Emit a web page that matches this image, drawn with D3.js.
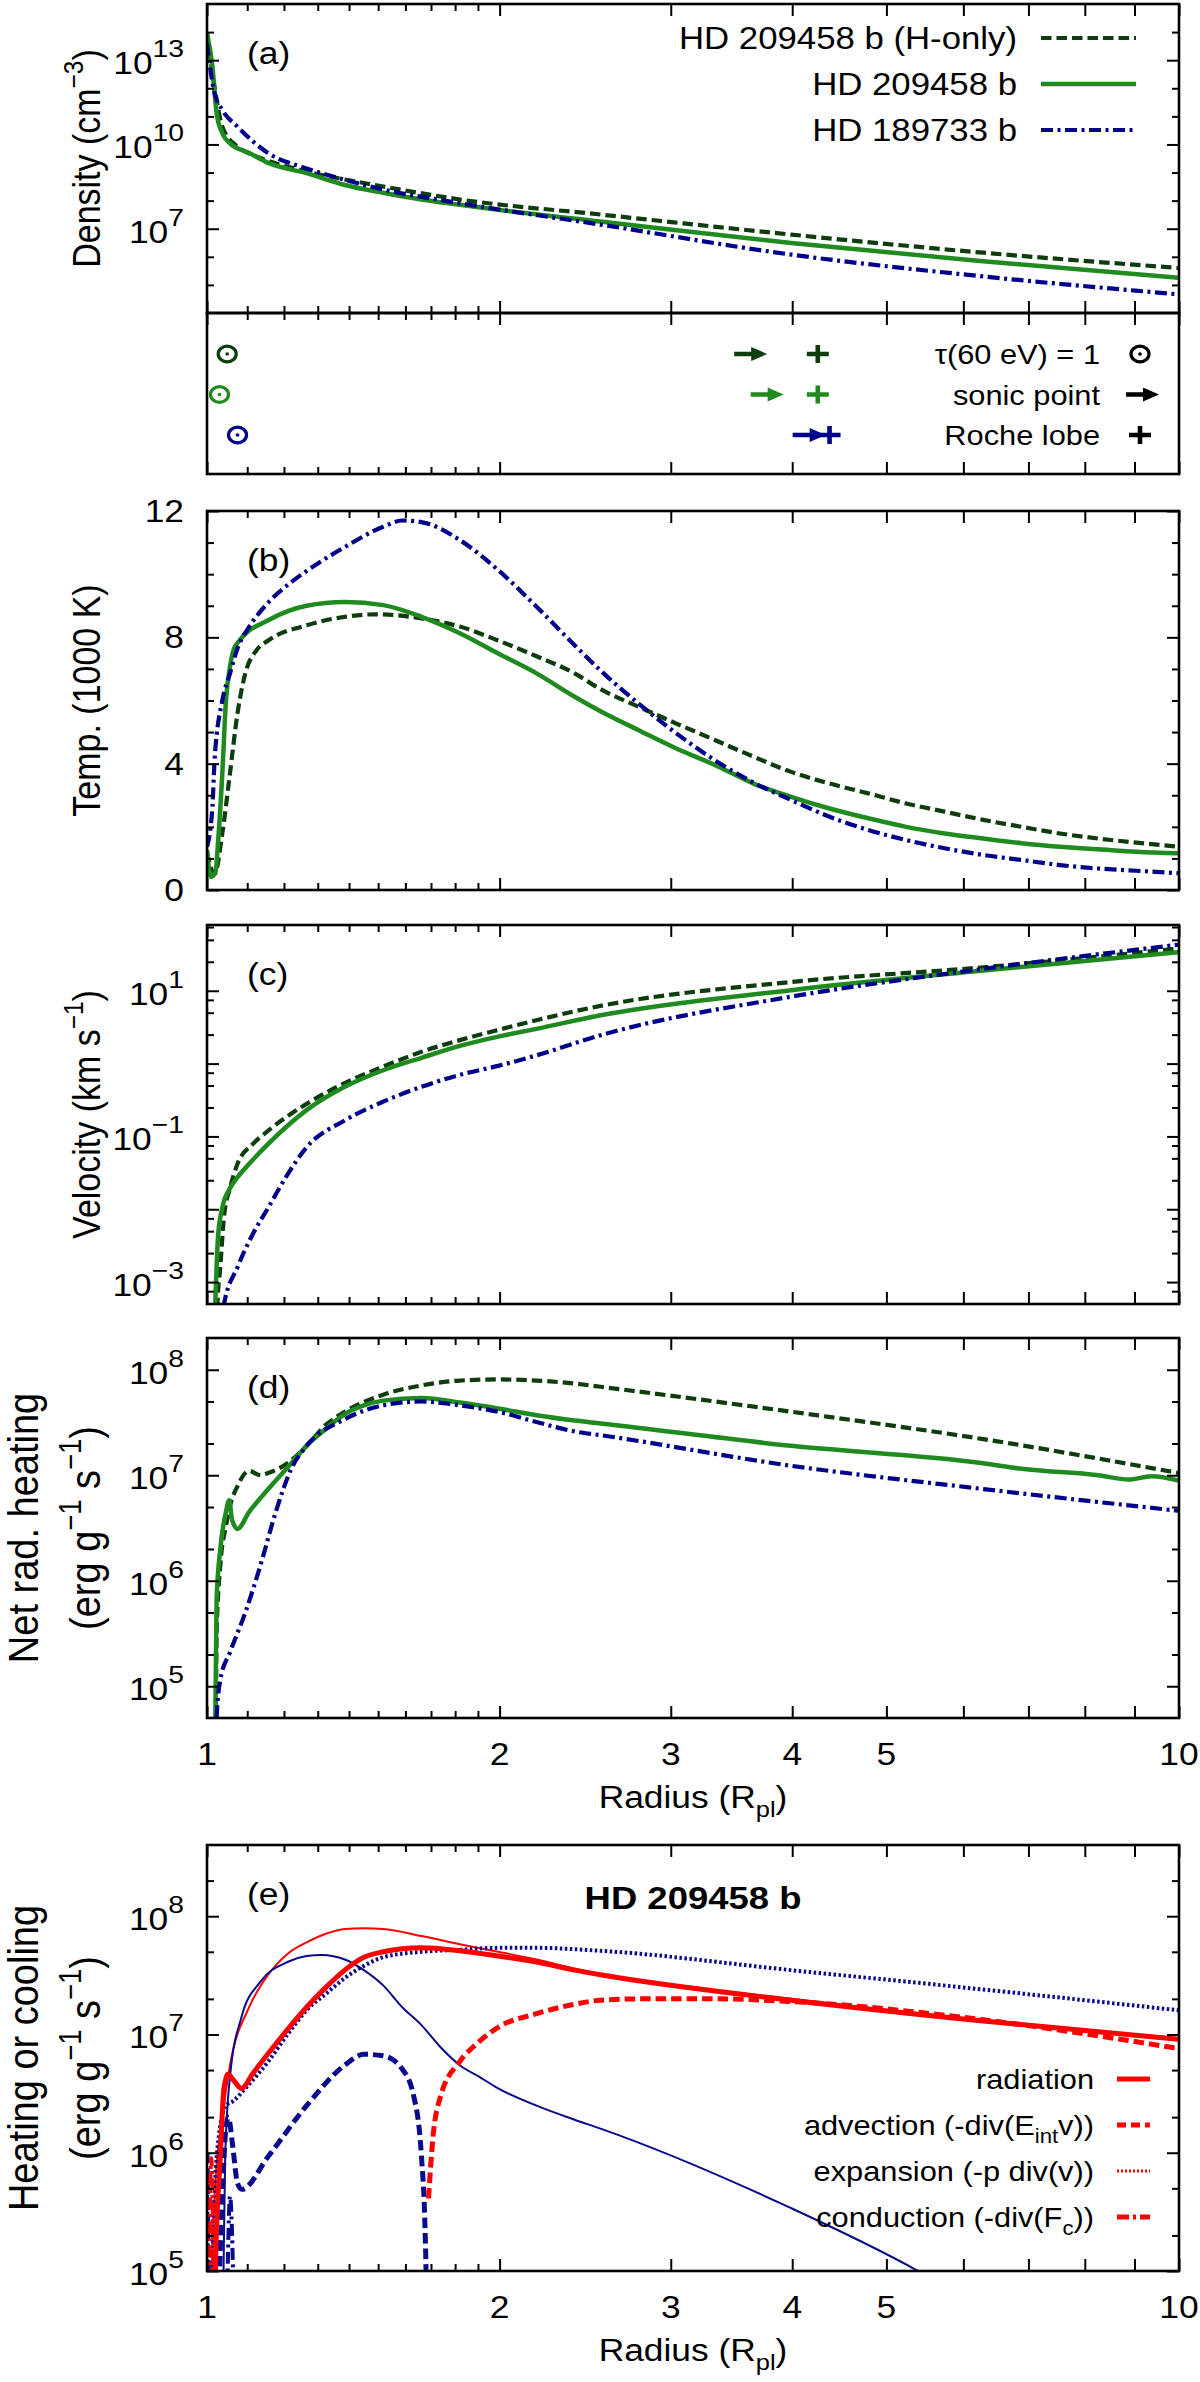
<!DOCTYPE html>
<html>
<head>
<meta charset="utf-8">
<title>Escape profiles: HD 209458 b and HD 189733 b</title>
<style>
  body { margin: 0; background: #fff; }
  svg { display: block; font-family: "Liberation Sans", Arial, Helvetica, sans-serif; }
  .tick line { stroke: #000; stroke-width: 2; }
  .frame { fill: none; stroke: #000; stroke-width: 2.6; }
</style>
<script src="https://cdn.jsdelivr.net/npm/d3@7"></script>
</head>
<body>
<script>
// ---- data: [radius (R_pl), value] pairs ----

const seriesNames = ['HD 209458 b (H-only)', 'HD 209458 b', 'HD 189733 b'];

// (a) density, cm^-3
const densityHonly = [[1.000, 8.9e13], [1.018, 1.1e12], [1.037, 4.3e10], [1.075, 8.3e9], [1.105, 4.8e9], [1.156, 2.6e9], [1.266, 1.1e9], [1.518, 3.2e8], [1.82, 1.1e8], [2.54, 3.2e7], [3.99, 6.2e6], [6.29, 1.4e6], [10, 4.0e5]];
const density209 = [[1.000, 8.9e13], [1.013, 5.8e12], [1.023, 1.3e11], [1.037, 2.5e10], [1.056, 1.1e10], [1.105, 5.0e9], [1.156, 2.2e9], [1.266, 9.5e8], [1.386, 3.6e8], [1.518, 1.9e8], [1.662, 1.1e8], [1.82, 7.1e7], [1.993, 4.7e7], [2.54, 1.8e7], [3.99, 3.1e6], [6.29, 6.9e5], [10, 1.8e5]];
const density189 = [[1.000, 3.9e13], [1.018, 6.6e11], [1.037, 1.7e11], [1.075, 4.3e10], [1.156, 4.9e9], [1.266, 1.4e9], [1.386, 5.5e8], [1.518, 2.5e8], [1.82, 8.1e7], [2.54, 1.4e7], [3.99, 1.2e6], [6.29, 2.0e5], [10, 4.6e4]];

// markers: tau(60 eV)=1, sonic point, Roche lobe
const tau60 = [1.049, 1.030, 1.075];
const sonicPoint = [3.77, 3.92, 4.33];
const rocheLobe = [4.25, 4.25, 4.37];
const markerLabels = ['\u03c4(60 eV) = 1', 'sonic point', 'Roche lobe'];

// (b) temperature, 1000 K
const tempHonly = [[1.000, 1.2], [1.018, 0.5], [1.037, 1.8], [1.056, 3.7], [1.075, 5.6], [1.095, 6.86], [1.125, 7.6], [1.156, 7.9], [1.266, 8.38], [1.386, 8.65], [1.491, 8.73], [1.662, 8.6], [1.82, 8.34], [1.993, 7.9], [2.183, 7.4], [2.389, 6.86], [2.54, 6.36], [2.78, 5.8], [3.04, 5.27], [3.33, 4.75], [3.65, 4.22], [3.99, 3.74], [4.37, 3.37], [4.79, 3.06], [5.24, 2.74], [5.74, 2.48], [6.29, 2.22], [6.89, 2.0], [7.54, 1.79], [8.26, 1.63], [9.04, 1.5], [10, 1.37]];
const temp209 = [[1.000, 1.27], [1.009, 0.42], [1.020, 0.55], [1.027, 1.6], [1.037, 3.7], [1.046, 6.0], [1.056, 7.07], [1.065, 7.6], [1.080, 7.9], [1.156, 8.54], [1.266, 9.0], [1.386, 9.12], [1.518, 9.02], [1.662, 8.65], [1.82, 8.13], [1.993, 7.49], [2.183, 6.86], [2.389, 6.12], [2.54, 5.66], [2.78, 5.06], [3.04, 4.48], [3.33, 3.96], [3.65, 3.37], [3.99, 2.95], [4.37, 2.58], [4.79, 2.27], [5.24, 2.0], [5.74, 1.79], [6.29, 1.63], [6.89, 1.48], [7.54, 1.37], [8.26, 1.29], [9.04, 1.21], [10, 1.16]];
const temp189 = [[1.000, 1.37], [1.013, 2.64], [1.018, 4.1], [1.037, 6.0], [1.056, 6.86], [1.075, 7.65], [1.105, 8.33], [1.156, 9.1], [1.221, 9.75], [1.266, 10.1], [1.386, 10.86], [1.518, 11.5], [1.588, 11.7], [1.662, 11.65], [1.82, 11.08], [1.993, 10.13], [2.183, 8.97], [2.389, 7.75], [2.54, 6.95], [2.78, 5.9], [3.04, 4.96], [3.33, 4.11], [3.65, 3.4], [3.99, 2.85], [4.37, 2.32], [4.79, 1.9], [5.24, 1.58], [5.74, 1.32], [6.29, 1.11], [6.89, 0.95], [7.54, 0.79], [8.26, 0.68], [9.04, 0.61], [10, 0.53]];

// (c) velocity, km/s
const velHonly = [[1.023, 1e-4], [1.025, 4.9e-4], [1.032, 1.6e-3], [1.041, 7.8e-3], [1.056, 1.95e-2], [1.075, 4.2e-2], [1.115, 7.9e-2], [1.156, 0.12], [1.266, 0.28], [1.386, 0.54], [1.518, 0.91], [1.662, 1.45], [1.82, 2.1], [1.993, 2.9], [2.54, 6.2], [3.99, 13.2], [6.29, 21], [10, 38]];
const vel209 = [[1.018, 1e-4], [1.020, 4.9e-4], [1.023, 1.6e-3], [1.027, 4.6e-3], [1.037, 1.05e-2], [1.056, 1.95e-2], [1.075, 2.75e-2], [1.105, 4.2e-2], [1.156, 7.9e-2], [1.266, 0.23], [1.386, 0.48], [1.518, 0.81], [1.662, 1.2], [1.82, 1.75], [1.993, 2.35], [2.183, 3.0], [2.54, 4.6], [3.99, 10.2], [6.29, 19], [10, 34]];
const vel189 = [[1.035, 1e-4], [1.041, 4.9e-4], [1.075, 1.6e-3], [1.115, 4.6e-3], [1.156, 1.05e-2], [1.21, 3.0e-2], [1.266, 7.1e-2], [1.386, 0.166], [1.518, 0.30], [1.662, 0.48], [1.82, 0.70], [1.993, 0.93], [2.183, 1.3], [2.54, 2.45], [3.99, 8.3], [6.29, 20], [10, 43]];

// (d) net radiative heating, erg g^-1 s^-1
const heatHonly = [[1.021, 3e4], [1.023, 3.2e5], [1.032, 1.4e6], [1.046, 3.3e6], [1.056, 5.1e6], [1.075, 7.9e6], [1.105, 1.1e7], [1.135, 1.0e7], [1.156, 1.05e7], [1.21, 1.3e7], [1.266, 1.9e7], [1.325, 3.0e7], [1.386, 4.0e7], [1.518, 5.8e7], [1.662, 7.1e7], [1.82, 7.9e7], [1.993, 8.1e7], [2.183, 7.9e7], [2.389, 7.4e7], [2.54, 6.9e7], [3.99, 4.0e7], [6.29, 2.2e7], [10, 1.05e7]];
const heat209 = [[1.019, 3e4], [1.020, 5.0e4], [1.023, 6.6e5], [1.032, 2.0e6], [1.046, 4.5e6], [1.054, 5.8e6], [1.061, 3.8e6], [1.075, 3.1e6], [1.105, 4.5e6], [1.156, 7.4e6], [1.221, 1.3e7], [1.266, 1.9e7], [1.325, 2.75e7], [1.386, 3.8e7], [1.45, 4.6e7], [1.518, 5.1e7], [1.662, 5.4e7], [1.82, 4.9e7], [1.993, 4.3e7], [2.183, 3.7e7], [2.389, 3.3e7], [2.54, 3.1e7], [3.99, 1.9e7], [6.29, 1.3e7], [6.89, 1.15e7], [8.26, 1.0e7], [8.88, 9.1e6], [9.37, 9.8e6], [10, 8.9e6]];
const heat189 = [[1.022, 3e4], [1.023, 5e4], [1.032, 1.15e5], [1.056, 2.1e5], [1.095, 5.0e5], [1.135, 1.4e6], [1.177, 4.5e6], [1.221, 1.15e7], [1.266, 1.9e7], [1.386, 3.4e7], [1.518, 4.6e7], [1.662, 5.0e7], [1.82, 4.6e7], [1.993, 4.0e7], [2.183, 3.2e7], [2.389, 2.6e7], [2.54, 2.4e7], [3.99, 1.23e7], [6.29, 7.4e6], [10, 4.6e6]];

// (e) energy budget of HD 209458 b, erg g^-1 s^-1
const radiation = [[1.019, 3e4], [1.020, 1e5], [1.032, 9.3e5], [1.041, 3.5e6], [1.051, 4.6e6], [1.065, 4.1e6], [1.085, 3.5e6], [1.115, 4.7e6], [1.156, 6.9e6], [1.21, 1.1e7], [1.266, 1.7e7], [1.325, 2.5e7], [1.386, 3.5e7], [1.45, 4.5e7], [1.518, 5.0e7], [1.662, 5.4e7], [1.82, 5.1e7], [1.993, 4.6e7], [2.183, 4.1e7], [2.389, 3.5e7], [2.54, 3.2e7], [3.99, 1.95e7], [6.29, 1.3e7], [10, 9.1e6]];
const radHeating = [[1.010, 3e4], [1.012, 1e5], [1.018, 4.3e5], [1.037, 2.0e6], [1.056, 5.5e6], [1.105, 1.7e7], [1.156, 3.2e7], [1.21, 4.8e7], [1.266, 6.0e7], [1.325, 7.1e7], [1.386, 7.8e7], [1.45, 7.9e7], [1.518, 7.8e7], [1.662, 6.8e7], [1.82, 5.8e7], [1.993, 5.0e7], [2.183, 4.3e7], [2.389, 3.6e7], [2.54, 3.25e7], [3.99, 2.0e7], [6.29, 1.32e7], [10, 9.3e6]];
const radCooling = [[1.038, 3e4], [1.040, 1e5], [1.044, 9.3e5], [1.056, 4.4e6], [1.085, 1.4e7], [1.135, 2.8e7], [1.21, 4.1e7], [1.266, 4.6e7], [1.313, 4.7e7], [1.386, 4.3e7], [1.45, 3.5e7], [1.518, 2.6e7], [1.588, 1.7e7], [1.662, 1.2e7], [1.739, 7.8e6], [1.82, 5.5e6], [1.905, 4.4e6], [1.993, 3.5e6], [2.183, 2.5e6], [2.389, 1.9e6], [2.54, 1.6e6], [3.99, 3.4e5], [5.39, 1e5], [6, 6e4]];
const expansion = [[1.010, 3e4], [1.012, 1e5], [1.027, 1.26e6], [1.046, 2.5e6], [1.065, 2.75e6], [1.095, 3.5e6], [1.156, 5.9e6], [1.21, 1.0e7], [1.266, 1.6e7], [1.325, 2.2e7], [1.386, 3.0e7], [1.45, 3.8e7], [1.518, 4.5e7], [1.662, 5.0e7], [1.82, 5.2e7], [1.993, 5.4e7], [2.183, 5.4e7], [2.54, 5.1e7], [3.99, 3.5e7], [6.29, 2.4e7], [10, 1.6e7]];
const advCooling = [[1.000, 1.0e6], [1.007, 2e4], [1.022, 2e4], [1.035, 3e5], [1.045, 1.5e6], [1.052, 2.0e6], [1.062, 1.2e6], [1.075, 5.5e5], [1.086, 4.9e5], [1.156, 9.3e5], [1.266, 2.5e6], [1.386, 5.5e6], [1.45, 6.8e6], [1.518, 6.6e6], [1.588, 5.1e6], [1.632, 3.0e6], [1.662, 9.3e5], [1.677, 1.95e5], [1.68, 1e5], [1.683, 2e4]];
const advHeating = [[1.69, 4.1e5], [1.708, 1.35e6], [1.739, 3.0e6], [1.82, 5.9e6], [1.905, 8.7e6], [1.993, 1.15e7], [2.183, 1.5e7], [2.389, 1.8e7], [2.54, 1.95e7], [2.78, 2.0e7], [3.04, 2.0e7], [3.33, 2.0e7], [3.99, 1.9e7], [6.29, 1.33e7], [10, 7.6e6]];
const condCooling = [[1.000, 7e5], [1.006, 2e4], [1.044, 2e4], [1.056, 4.3e5], [1.068, 2e4]];
const condHeating = [[1.004, 2e4], [1.010, 9e5], [1.018, 2e4]];
const budgetLabels = [
  ['radiation'],
  ['advection (-div(', 'E', ['int', 'sub'], 'v))'],
  ['expansion (-p div(v))'],
  ['conduction (-div(F', ['c', 'sub'], '))']
];

// axis ticks
const xMajor = [1, 2, 3, 4, 5, 6, 7, 8, 9, 10];
const xMinor = [1.1, 1.2, 1.3, 1.4, 1.5, 1.6, 1.7, 1.8, 1.9];
const xLabels = [1, 2, 3, 4, 5, 10];
const densityTicks = [1e7, 1e10, 1e13];
const densityMinor = [1e5, 1e6, 1e8, 1e9, 1e11, 1e12, 1e14];
const tempTicks = [0, 4, 8, 12];
const tempMinor = [1, 2, 3, 5, 6, 7, 9, 10, 11];
const velTicks = [1e-3, 1e-2, 1e-1, 1, 10];
const velLabels = [1e-3, 1e-1, 10];
const velMinor = [7.5e-4, 2.5e-3, 5e-3, 7.5e-3, 2.5e-2, 5e-2, 7.5e-2, 0.25, 0.5, 0.75, 2.5, 5, 7.5, 25, 50, 75];
const heatTicks = [1e5, 1e6, 1e7, 1e8];
const heatMinor = [2e5, 5e5, 2e6, 5e6, 2e7, 5e7];
const budgetMinor = [2e5, 5e5, 2e6, 5e6, 2e7, 5e7, 2e8];

// ---- layout ----
const X0 = 207, X1 = 1179;
const SX = 1.14; // the figure's lettering is a little wide
const styles = [
  { color: '#0d3d0d', dash: '10.5,5', width: 4.2 },
  { color: '#1f8b1f', dash: null, width: 4.5 },
  { color: '#00008b', dash: '12,4.5,3,4.5', width: 4.2 }
];
const RED = '#ff0000', NAVY = '#0a0a8c';

const svg = d3.select('body').append('svg').attr('width', 1200).attr('height', 2382);
const x = d3.scaleLog().domain([1, 10]).range([X0, X1]);

// text with super/subscripts
function say(parent, px, py, parts, o = {}) {
  const size = o.size || 30;
  const tr = o.rotate
    ? `translate(${px},${py}) rotate(-90) scale(1,${SX})`
    : `translate(${px},${py}) scale(${SX},1)`;
  const t = parent.append('text').attr('transform', tr)
    .attr('text-anchor', o.anchor || 'start')
    .attr('font-size', size)
    .attr('font-weight', o.bold ? 'bold' : null)
    .attr('fill', '#000');
  let off = 0;
  parts.forEach(p => {
    const [s, k] = Array.isArray(p) ? p : [p, null];
    const shift = k === 'sup' ? -(o.rise || 0.45) * size : k === 'sub' ? 0.3 * size : 0;
    t.append('tspan').attr('dy', shift - off)
      .attr('font-size', k ? size * (o.small || 0.72) : size).text(s);
    off = shift;
  });
  return t;
}

function noDomain(a) { a.select('.domain').remove(); }

function xTicks(top, bottom) {
  [[xMajor, 12], [xMinor, 7]].forEach(([vals, len]) => {
    svg.append('g').attr('transform', `translate(0,${bottom})`)
      .call(d3.axisBottom(x).tickValues(vals).tickSize(-len).tickFormat('')).call(noDomain);
    svg.append('g').attr('transform', `translate(0,${top})`)
      .call(d3.axisTop(x).tickValues(vals).tickSize(-len).tickFormat('')).call(noDomain);
  });
}

function yTicks(y, major, minor) {
  [[major, 12], [minor, 7]].forEach(([vals, len]) => {
    svg.append('g').attr('transform', `translate(${X0},0)`)
      .call(d3.axisLeft(y).tickValues(vals).tickSize(-len).tickFormat('')).call(noDomain);
    svg.append('g').attr('transform', `translate(${X1},0)`)
      .call(d3.axisRight(y).tickValues(vals).tickSize(-len).tickFormat('')).call(noDomain);
  });
}

function box(top, bottom) {
  svg.append('rect').attr('class', 'frame')
    .attr('x', X0).attr('y', top).attr('width', X1 - X0).attr('height', bottom - top);
}

function clipFor(id, top, bottom) {
  svg.append('clipPath').attr('id', id).append('rect')
    .attr('x', X0).attr('y', top).attr('width', X1 - X0).attr('height', bottom - top);
  return svg.append('g').attr('clip-path', `url(#${id})`);
}

function powLabels(y, vals) {
  vals.forEach(v => {
    const e = Math.round(Math.log10(v));
    say(svg, X0 - 23, y(v) + 14, ['10', [String(e).replace('-', '\u2212'), 'sup']],
      { anchor: 'end', size: 31, rise: 0.55, small: 0.8 });
  });
}

function xLabelRow(bottom) {
  xLabels.forEach(v => say(svg, x(v), bottom + 47, [String(v)], { anchor: 'middle', size: 31 }));
  say(svg, (X0 + X1) / 2, bottom + 90, ['Radius (R', ['pl', 'sub'], ')'], { anchor: 'middle', size: 31 });
}

function drawLines(g, y, series) {
  const line = d3.line().x(d => x(d[0])).y(d => y(d[1])).curve(d3.curveMonotoneX);
  series.forEach(s => {
    g.append('path').datum(s.data).attr('d', line)
      .attr('fill', 'none').attr('stroke', s.color).attr('stroke-width', s.width)
      .attr('stroke-dasharray', s.dash).attr('stroke-linejoin', 'round');
  });
}

function panelLabel(top, txt) {
  say(svg, 247, top + 60, [txt], { size: 31 });
}

// ---- (a) density ----
const ya = d3.scaleLog().domain([1e4, 1e15]).range([313, 4]);
drawLines(clipFor('ca', 4, 313), ya,
  [densityHonly, density209, density189].map((d, i) => Object.assign({ data: d }, styles[i])));
xTicks(4, 313);
yTicks(ya, densityTicks, densityMinor);
box(4, 313);
powLabels(ya, densityTicks);
say(svg, 100, 158.5, ['Density (cm', ['\u22123', 'sup'], ')'], { rotate: true, anchor: 'middle', size: 34 });
panelLabel(4, '(a)');
seriesNames.forEach((name, i) => {
  const yy = 38 + i * 46;
  say(svg, 1017, yy + 11, [name], { anchor: 'end', size: 30.5 });
  svg.append('line').attr('x1', 1041).attr('x2', 1136).attr('y1', yy).attr('y2', yy)
    .attr('stroke', styles[i].color).attr('stroke-width', styles[i].width)
    .attr('stroke-dasharray', styles[i].dash);
});

// ---- marker strip ----
xTicks(313, 474);
box(313, 474);
const row = d3.scalePoint().domain(seriesNames).range([354, 435]);
const ARROW = 'M-33,-2.2H-16V-7L0,0L-16,7V2.2H-33Z';
const PLUS = 'M-11,0H11M0,-9V9';
function ring(g, cx, cy, color) {
  g.append('ellipse').attr('cx', cx).attr('cy', cy).attr('rx', 9).attr('ry', 7.8)
    .attr('fill', 'none').attr('stroke', color).attr('stroke-width', 3.2);
  g.append('ellipse').attr('cx', cx).attr('cy', cy).attr('rx', 1.9).attr('ry', 1.7).attr('fill', color);
}
seriesNames.forEach((name, i) => {
  const c = styles[i].color, cy = row(name);
  ring(svg, x(tau60[i]), cy, c);
  svg.append('path').attr('d', ARROW).attr('fill', c)
    .attr('transform', `translate(${x(sonicPoint[i])},${cy})`);
  svg.append('path').attr('d', PLUS).attr('stroke', c).attr('stroke-width', 4.6).attr('fill', 'none')
    .attr('transform', `translate(${x(rocheLobe[i])},${cy})`);
});
markerLabels.forEach((lab, i) => {
  const cy = row(seriesNames[i]);
  say(svg, 1100, cy + 10, [lab], { anchor: 'end', size: 27 });
});
ring(svg, 1140, row(seriesNames[0]), '#000');
svg.append('path').attr('d', ARROW).attr('fill', '#000')
  .attr('transform', `translate(1159,${row(seriesNames[1])})`);
svg.append('path').attr('d', PLUS).attr('stroke', '#000').attr('stroke-width', 4.6)
  .attr('transform', `translate(1140,${row(seriesNames[2])})`);

// ---- (b) temperature ----
const yb = d3.scaleLinear().domain([0, 12]).range([890, 511]);
drawLines(clipFor('cb', 511, 890), yb,
  [tempHonly, temp209, temp189].map((d, i) => Object.assign({ data: d }, styles[i])));
xTicks(511, 890);
yTicks(yb, tempTicks, tempMinor);
box(511, 890);
tempTicks.forEach(v => say(svg, X0 - 23, yb(v) + 11, [String(v)], { anchor: 'end', size: 31 }));
say(svg, 100, 700.5, ['Temp. (1000 K)'], { rotate: true, anchor: 'middle', size: 34 });
panelLabel(511, '(b)');

// ---- (c) velocity ----
const yc = d3.scaleLog().domain([5e-4, 80]).range([1304, 925]);
drawLines(clipFor('cc', 925, 1304), yc,
  [velHonly, vel209, vel189].map((d, i) => Object.assign({ data: d }, styles[i])));
xTicks(925, 1304);
yTicks(yc, velTicks, velMinor);
box(925, 1304);
powLabels(yc, velLabels);
say(svg, 100, 1114.5, ['Velocity (km s', ['\u22121', 'sup'], ')'], { rotate: true, anchor: 'middle', size: 34 });
panelLabel(925, '(c)');

// ---- (d) net radiative heating ----
const yd = d3.scaleLog().domain([5e4, 2e8]).range([1718, 1338]);
drawLines(clipFor('cd', 1338, 1718), yd,
  [heatHonly, heat209, heat189].map((d, i) => Object.assign({ data: d }, styles[i])));
xTicks(1338, 1718);
yTicks(yd, heatTicks, heatMinor);
box(1338, 1718);
powLabels(yd, heatTicks);
xLabelRow(1718);
say(svg, 38, 1528, ['Net rad. heating'], { rotate: true, anchor: 'middle', size: 38 });
say(svg, 100, 1528, ['(erg g', ['\u22121', 'sup'], ' s', ['\u22121', 'sup'], ')'], { rotate: true, anchor: 'middle', size: 38 });
panelLabel(1338, '(d)');

// ---- (e) heating and cooling terms ----
const ye = d3.scaleLog().domain([1e5, 4e8]).range([2271, 1845]);
const DASH = '10.5,5', DOT = '2.5,2.5', DASHDOT = '12,4.5,3,4.5';
drawLines(clipFor('ce', 1845, 2271), ye, [
  { data: radHeating, color: RED, width: 2, dash: null },
  { data: radCooling, color: NAVY, width: 2, dash: null },
  { data: expansion, color: NAVY, width: 4, dash: DOT },
  { data: advCooling, color: NAVY, width: 5, dash: DASH },
  { data: advHeating, color: RED, width: 5, dash: DASH },
  { data: condCooling, color: NAVY, width: 4, dash: DASHDOT },
  { data: condHeating, color: RED, width: 4, dash: DASHDOT },
  { data: radiation, color: RED, width: 5, dash: null }
]);
xTicks(1845, 2271);
yTicks(ye, heatTicks, budgetMinor);
box(1845, 2271);
powLabels(ye, heatTicks);
xLabelRow(2271);
say(svg, 38, 2058, ['Heating or cooling'], { rotate: true, anchor: 'middle', size: 38 });
say(svg, 100, 2058, ['(erg g', ['\u22121', 'sup'], ' s', ['\u22121', 'sup'], ')'], { rotate: true, anchor: 'middle', size: 38 });
panelLabel(1845, '(e)');
say(svg, (X0 + X1) / 2, 1909, ['HD 209458 b'], { anchor: 'middle', size: 32, bold: true });

const budgetKeys = [
  { dash: null, width: 5 },
  { dash: '9,5', width: 5 },
  { dash: '2,2', width: 3 },
  { dash: '12,4,3,4', width: 5 }
];
budgetLabels.forEach((parts, i) => {
  const yy = 2079 + i * 46;
  say(svg, 1094, yy + 10, parts, { anchor: 'end', size: 27 });
  svg.append('line').attr('x1', 1117).attr('x2', 1150).attr('y1', yy).attr('y2', yy)
    .attr('stroke', RED).attr('stroke-width', budgetKeys[i].width)
    .attr('stroke-dasharray', budgetKeys[i].dash);
});
</script>
</body>
</html>
